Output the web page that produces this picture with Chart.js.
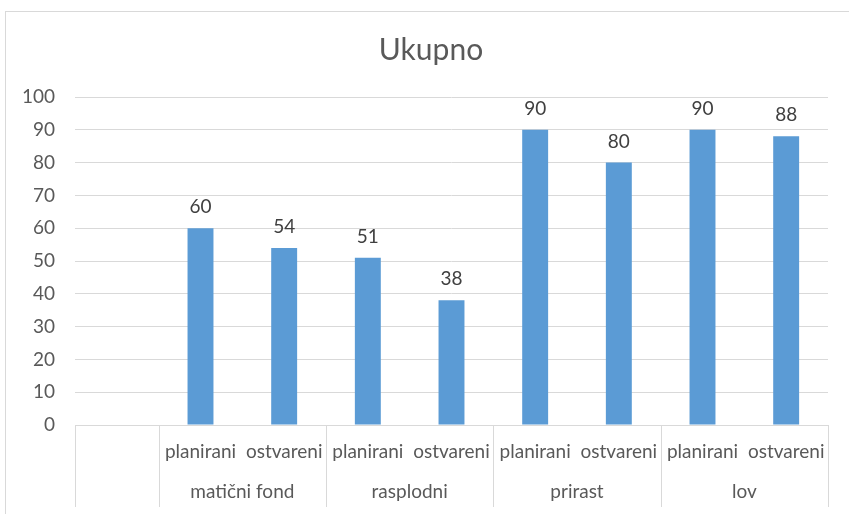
<!DOCTYPE html>
<html>
<head>
<meta charset="utf-8">
<script src="https://cdn.jsdelivr.net/npm/chart.js@4/dist/chart.umd.min.js"></script>
<style>
  html, body { margin: 0; padding: 0; background: #fff; }
  #frame {
    position: absolute; left: 5px; top: 11px;
    width: 850px; height: 520px;
    border: 1px solid #d9d9d9; overflow: hidden; background: #fff;
  }
  #chart { display: block; }
</style>
</head>
<body>
<div id="frame"><canvas id="chart" width="850" height="502"></canvas></div>
<script>
// podaci grafikona
const title = 'Ukupno';
const groups = ['matični fond', 'rasplodni', 'prirast', 'lov'];
const subLabels = ['planirani', 'ostvareni'];
const planirani = [60, 51, 90, 90];
const ostvareni = [54, 38, 80, 88];
const yTicks = [0, 10, 20, 30, 40, 50, 60, 70, 80, 90, 100];

const FONT = 'Lato, "Liberation Sans", sans-serif';
const TEXT = '#595959';

// prva kategorija je prazna (kao u Excelu)
const labels = [''];
const values = [null];
groups.forEach(function(g, i) {
  labels.push(subLabels[0], subLabels[1]);
  values.push(planirani[i], ostvareni[i]);
});

// naslov centriran na cijelom okviru
const chartTitle = {
  id: 'chartTitle',
  afterDraw(chart) {
    const ctx = chart.ctx;
    ctx.save();
    ctx.font = '30px ' + FONT;
    ctx.fillStyle = TEXT;
    ctx.textAlign = 'center';
    ctx.textBaseline = 'middle';
    ctx.fillText(title, chart.width / 2, 38.5);
    ctx.restore();
  }
};

// vrijednosti iznad stupaca
const valueLabels = {
  id: 'valueLabels',
  afterDatasetsDraw(chart) {
    const ctx = chart.ctx;
    ctx.save();
    ctx.font = '19px ' + FONT;
    ctx.fillStyle = '#404040';
    ctx.textAlign = 'center';
    ctx.textBaseline = 'alphabetic';
    chart.getDatasetMeta(0).data.forEach(function(bar, i) {
      const v = values[i];
      if (v == null) return;
      ctx.fillText(String(v), bar.x, bar.y - 15);
    });
    ctx.restore();
  }
};

// dvorazinska os kategorija
const multiAxis = {
  id: 'multiAxis',
  afterDraw(chart) {
    const ctx = chart.ctx;
    const x = chart.scales.x;
    const bottom = chart.chartArea.bottom;
    const w = x.getPixelForValue(1) - x.getPixelForValue(0);
    ctx.save();
    ctx.strokeStyle = '#d9d9d9';
    ctx.lineWidth = 1;
    const edges = [x.getPixelForValue(0) - w / 2, x.getPixelForValue(1) - w / 2];
    groups.forEach(function(g, i) {
      edges.push(x.getPixelForValue(2 + i * 2) + w / 2);
    });
    edges.forEach(function(px) {
      const p = Math.round(px) + 0.5;
      ctx.beginPath();
      ctx.moveTo(p, bottom);
      ctx.lineTo(p, bottom + 82);
      ctx.stroke();
    });
    ctx.font = '19px ' + FONT;
    ctx.fillStyle = TEXT;
    ctx.textAlign = 'center';
    ctx.textBaseline = 'middle';
    for (let i = 1; i < labels.length; i++) {
      ctx.fillText(labels[i], x.getPixelForValue(i), bottom + 27);
    }
    groups.forEach(function(g, i) {
      const c = (x.getPixelForValue(1 + i * 2) + x.getPixelForValue(2 + i * 2)) / 2;
      ctx.fillText(g, c, bottom + 67);
    });
    ctx.restore();
  }
};

new Chart(document.getElementById('chart'), {
  type: 'bar',
  data: {
    labels: labels,
    datasets: [{
      data: values,
      backgroundColor: '#5b9bd5',
      borderWidth: 0,
      categoryPercentage: 1,
      barPercentage: 0.31
    }]
  },
  options: {
    responsive: false,
    animation: false,
    layout: { padding: { left: 0, right: 28, top: 85, bottom: 0 } },
    plugins: {
      legend: { display: false },
      tooltip: { enabled: false },
      title: { display: false }
    },
    scales: {
      x: {
        grid: { display: false },
        border: { display: true, color: '#d9d9d9' },
        ticks: { display: false },
        afterFit(scale) { scale.height = 89; }
      },
      y: {
        min: 0,
        max: 100,
        afterBuildTicks(scale) { scale.ticks = yTicks.map(v => ({ value: v })); },
        grid: { color: '#d9d9d9', drawTicks: false },
        border: { display: false },
        ticks: { color: TEXT, font: { family: FONT, size: 19 }, padding: 20 },
        afterFit(scale) { scale.width = 69; }
      }
    }
  },
  plugins: [chartTitle, valueLabels, multiAxis]
});
</script>
</body>
</html>
